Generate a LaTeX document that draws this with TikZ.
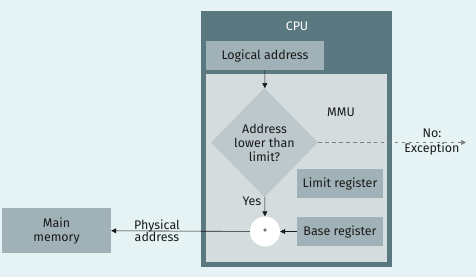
\documentclass[tikz,border=0pt]{standalone}
\usepackage{fontspec}
\setmainfont{Fira Sans}
\usetikzlibrary{arrows.meta,shapes.geometric}
\definecolor{bgcol}{HTML}{E6F3F5}
\definecolor{cpucol}{HTML}{5A7880}
\definecolor{boxcol}{HTML}{A0B2B7}
\definecolor{mmucol}{HTML}{D5DCDE}
\definecolor{diacol}{HTML}{BCC8CB}
\definecolor{inkcol}{HTML}{1A1A1A}
\tikzset{
  every node/.style={font=\fontsize{12.5}{14}\selectfont, text=inkcol},
  regbox/.style={fill=boxcol, draw=none, inner sep=0pt},
  arr/.style={draw=inkcol, line width=0.6pt, -{Triangle[length=5pt,width=5pt]}},
  dasharr/.style={arr, draw=gray, dash pattern=on 3.5pt off 3.5pt},
}
\begin{document}
\begin{tikzpicture}[x=1bp,y=-1bp]
  \useasboundingbox[fill=bgcol] (0,0) rectangle (476,277);
  % CPU frame and MMU area
  \fill[cpucol] (201,11) rectangle (392,267);
  \fill[mmucol] (206,74) rectangle (387,262);
  \node[text=white] (cpu) at (297,26) {CPU};
  \node (mmu) at (341,112) {MMU};
  % boxes
  \node[regbox, minimum width=118bp, minimum height=29bp] (logical) at (265,55.5) {Logical address};
  \node[regbox, minimum width=86bp, minimum height=29bp] (limit) at (340,183.5) {Limit register};
  \node[regbox, minimum width=86bp, minimum height=29bp] (base) at (340,231.5) {Base register};
  \node[regbox, minimum width=109bp, minimum height=45bp, align=center] (mem) at (56.5,230.5) {Main\\memory};
  % decision
  \node[diamond, fill=diacol, minimum width=107bp, minimum height=109bp, inner sep=0pt, align=center] (check) at (264.5,142.5) {Address\\lower than\\limit?};
  % adder
  \node[circle, fill=white, minimum size=30bp, inner sep=0pt, font=\fontsize{9}{10}\selectfont] (plus) at (265,231.5) {+};
  \coordinate (exc) at (466,142.5);
  % connectors
  \draw[arr] (logical) -- (check);
  \draw[arr] (check) -- node[left, pos=0.25] {Yes} (plus);
  \draw[arr] (base) -- (plus);
  \draw[arr] (plus) -- node[align=center, pos=0.67] {Physical\\[-2pt]address} (mem);
  \draw[dasharr] (check.east) -- (exc);
  \node[align=center] (exctext) at (432,142.5) {No:\\[1pt]Exception};
\end{tikzpicture}
\end{document}
